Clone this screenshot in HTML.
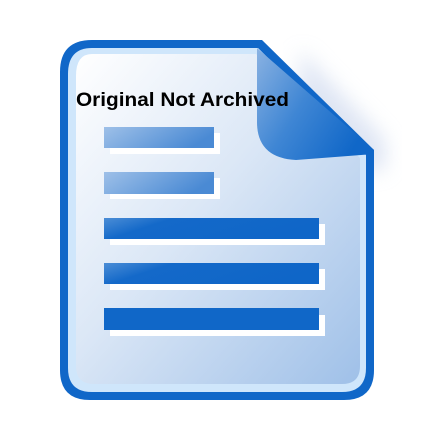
<!DOCTYPE html>
<html><head><style>body{margin:0;background:#fff}svg{display:block}</style></head><body>
<svg width="442" height="442" viewBox="0 0 442 442" xmlns="http://www.w3.org/2000/svg">
<defs>
<linearGradient id="pg" x1="0" y1="0" x2="1" y2="1">
<stop offset="0" stop-color="#ffffff"/><stop offset="0.45" stop-color="#dbe7f6"/><stop offset="1" stop-color="#9fc0e8"/>
</linearGradient>
<linearGradient id="fg" x1="0" y1="0" x2="1" y2="0.6">
<stop offset="0" stop-color="#8ab2e2"/><stop offset="0.5" stop-color="#3f86d4"/><stop offset="1" stop-color="#1067c8"/>
</linearGradient>
<linearGradient id="bg1" x1="0" y1="0" x2="1" y2="0.3">
<stop offset="0" stop-color="#9ec0e8"/><stop offset="1" stop-color="#4a8ad4"/>
</linearGradient>
<linearGradient id="bg2" x1="0" y1="0" x2="1" y2="0.3">
<stop offset="0" stop-color="#4b8dd6"/><stop offset="0.3" stop-color="#1469c9"/><stop offset="1" stop-color="#0f66c8"/>
</linearGradient>
<filter id="sh" x="-20%" y="-20%" width="140%" height="140%"><feGaussianBlur stdDeviation="10"/></filter>
</defs>
<path d="M300 50 L385 140 L385 170 L300 170Z" fill="#c8d4ec" opacity="0.6" filter="url(#sh)"/>
<path d="M92 40 L262 40 L374 150 L374 370 Q374 400 344 400 L90 400 Q60 400 60 370 L60 72 Q60 40 92 40Z" fill="#1067c8"/>
<path d="M92 48 L258 48 L366 155 L366 368 Q366 392 342 392 L92 392 Q68 392 68 368 L68 74 Q68 48 92 48Z" fill="#cfe6fb"/>
<path d="M92 54 L256 54 L360 158 L360 366 Q360 384 342 384 L94 384 Q76 384 76 366 L76 76 Q76 54 92 54Z" fill="url(#pg)"/>
<path d="M257 48 L257 122 Q257 158 296 160 L374 154 L374 150 Z" fill="url(#fg)"/>
<text x="76" y="106" font-family="Liberation Sans, sans-serif" font-weight="bold" font-size="19" textLength="213" lengthAdjust="spacingAndGlyphs" fill="#000">Original Not Archived</text>
<g fill="#fff">
<rect x="110" y="133" width="110" height="21"/><rect x="110" y="178" width="110" height="21"/>
<rect x="110" y="224" width="215" height="21"/><rect x="110" y="269" width="215" height="21"/><rect x="110" y="315" width="215" height="21"/>
</g>
<rect x="104" y="127" width="110" height="21" fill="url(#bg1)"/>
<rect x="104" y="172" width="110" height="22" fill="url(#bg1)"/>
<rect x="104" y="218" width="215" height="21" fill="url(#bg2)"/>
<rect x="104" y="263" width="215" height="21" fill="url(#bg2)"/>
<rect x="104" y="308" width="215" height="22" fill="#1067c8"/>
</svg>
</body></html>
